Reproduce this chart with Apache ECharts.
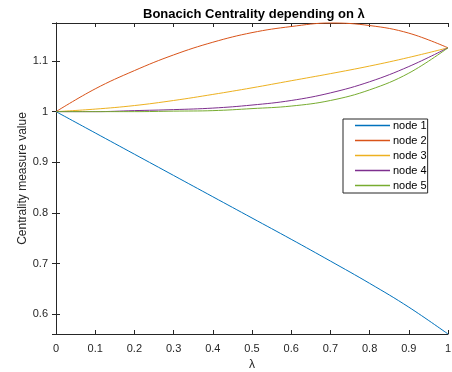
<!DOCTYPE html>
<html>
<head>
<meta charset="utf-8">
<script src="https://cdn.jsdelivr.net/npm/echarts@6/dist/echarts.min.js"></script>
<style>
html,body{margin:0;padding:0;background:#fff;}
#chart{width:452px;height:372px;}
</style>
</head>
<body>
<div id="chart"></div>
<script>
var lambda = [0, 0.1, 0.2, 0.3, 0.4, 0.5, 0.6, 0.7, 0.8, 0.9, 1];
var node1 = [1, 0.958, 0.916, 0.874, 0.832, 0.790, 0.748, 0.705, 0.661, 0.614, 0.561];
var node2 = [1, 1.045, 1.081, 1.112, 1.137, 1.156, 1.168, 1.175, 1.170, 1.155, 1.126];
var node3 = [1, 1.005, 1.012, 1.022, 1.034, 1.047, 1.061, 1.075, 1.090, 1.107, 1.126];
var node4 = [1, 1.000, 1.002, 1.004, 1.007, 1.013, 1.022, 1.037, 1.059, 1.089, 1.126];
var node5 = [1, 1.000, 1.000, 1.001, 1.002, 1.006, 1.011, 1.022, 1.043, 1.076, 1.126];
var seriesNames = ['node 1', 'node 2', 'node 3', 'node 4', 'node 5'];
var colors = ['#0072BD', '#D95319', '#EDB120', '#7E2F8E', '#77AC30'];
var allData = [node1, node2, node3, node4, node5];

var axisColor = '#262626';
var font = 'Liberation Sans, Arial, Helvetica, sans-serif';

function pairs(ys) {
  return lambda.map(function (x, i) { return [x, ys[i]]; });
}

var chart = echarts.init(document.getElementById('chart'), null, {renderer: 'canvas'});
var option = {
  animation: false,
  backgroundColor: '#ffffff',
  color: colors,
  title: {
    text: 'Bonacich Centrality depending on λ',
    left: 138,
    top: 3,
    textStyle: {fontFamily: font, fontSize: 13, fontWeight: 'bold', color: '#000'}
  },
  grid: {left: 56, right: 4, top: 23, bottom: 38, containLabel: false, outerBoundsMode: 'none'},
  legend: {
    data: seriesNames,
    icon: 'rect',
    orient: 'vertical',
    left: 343,
    top: 119,
    padding: [0, 1, 1, 12],
    itemGap: 2,
    itemWidth: 35,
    itemHeight: 1.5,
    itemStyle: {borderWidth: 0},
    borderColor: axisColor,
    borderWidth: 1,
    backgroundColor: '#fff',
    textStyle: {fontFamily: font, fontSize: 11, color: '#000', lineHeight: 13, padding: [0, 0, 0, -2]}
  },
  xAxis: [{
    type: 'value',
    min: 0, max: 1, interval: 0.1,
    name: 'λ',
    nameLocation: 'middle',
    nameGap: 25,
    nameMoveOverlap: false,
    nameTextStyle: {fontFamily: font, fontSize: 12, color: axisColor},
    axisLine: {show: true, lineStyle: {color: axisColor, width: 1}},
    axisTick: {show: true, inside: true, length: 4, lineStyle: {color: axisColor}},
    axisLabel: {fontFamily: font, fontSize: 11, color: axisColor, margin: 9},
    splitLine: {show: false}
  }, {
    type: 'value',
    position: 'top',
    min: 0, max: 1, interval: 0.1,
    axisLine: {show: true, lineStyle: {color: axisColor, width: 1}},
    axisTick: {show: true, inside: true, length: 4, lineStyle: {color: axisColor}},
    axisLabel: {show: false},
    splitLine: {show: false}
  }],
  yAxis: [{
    type: 'value',
    min: 0.561, max: 1.175,
    splitNumber: 6,
    name: 'Centrality measure value',
    nameLocation: 'middle',
    nameGap: 27,
    nameMoveOverlap: false,
    nameTextStyle: {fontFamily: font, fontSize: 12, color: axisColor},
    axisLine: {show: true, lineStyle: {color: axisColor, width: 1}},
    axisTick: {show: true, inside: true, length: 4, lineStyle: {color: axisColor}},
    axisLabel: {fontFamily: font, fontSize: 11, color: axisColor, margin: 8,
      showMinLabel: false, showMaxLabel: false,
      formatter: function (v) {
        var r = Math.round(v * 10) / 10;
        if (Math.abs(r - v) > 1e-6) return '';
        return String(r);
      }},
    splitLine: {show: false}
  }, {
    type: 'value',
    position: 'right',
    min: 0.561, max: 1.175,
    splitNumber: 6,
    axisLine: {show: true, lineStyle: {color: axisColor, width: 1}},
    axisTick: {show: true, inside: true, length: 4, lineStyle: {color: axisColor}},
    axisLabel: {show: false},
    splitLine: {show: false}
  }],
  series: allData.map(function (d, i) {
    return {
      name: seriesNames[i],
      type: 'line',
      xAxisIndex: 0,
      yAxisIndex: 0,
      data: pairs(d),
      smooth: 0.4,
      symbol: 'none',
      clip: false,
      lineStyle: {width: 1, color: colors[i]},
      itemStyle: {color: colors[i]}
    };
  })
};
chart.setOption(option);
</script>
</body>
</html>
